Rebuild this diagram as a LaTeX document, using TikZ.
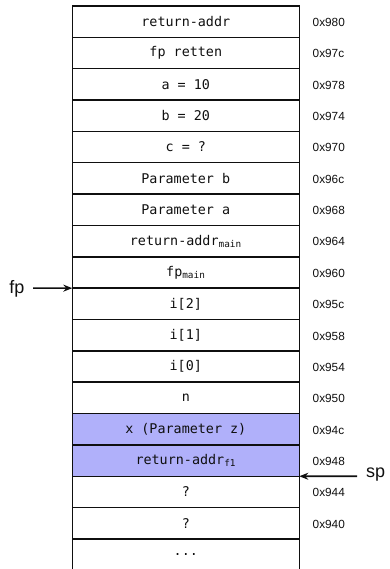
\documentclass[tikz,border=0pt]{standalone}
\usepackage{fontspec}
\setmainfont{Liberation Sans}
\newfontfamily\cellfont{DejaVu Sans Mono}
\usetikzlibrary{arrows.meta}
\definecolor{framefill}{RGB}{176,176,250}
\definecolor{ink}{RGB}{15,15,15}

\tikzset{
  cell/.style={draw=ink, line width=1.5pt, minimum width=227pt, minimum height=31.35pt,
    inner sep=0pt, outer sep=0pt, font=\cellfont\fontsize{13.4}{15}\selectfont, text=ink},
  framecell/.style={cell, fill=framefill},
  addr/.style={anchor=west, inner sep=0pt, font=\fontsize{11.8}{14}\selectfont, text=ink},
  reglabel/.style={inner sep=0pt, font=\fontsize{18}{21}\selectfont, text=ink},
  ptr/.style={draw=ink, line width=1.6pt, -{Stealth[length=9pt,width=7pt]}},
}

\begin{document}
\begin{tikzpicture}[x=1pt, y=-1pt]
  \useasboundingbox (0,0) rectangle (390,569);

  % stack cells, top (high addresses) to bottom
  \foreach \txt/\adr/\sty [count=\i] in {
      return-addr/0x980/cell,
      fp retten/0x97c/cell,
      a = 10/0x978/cell,
      b = 20/0x974/cell,
      c = ?/0x970/cell,
      Parameter b/0x96c/cell,
      Parameter a/0x968/cell,
      {return-addr\textsubscript{main}}/0x964/cell,
      {fp\textsubscript{main}}/0x960/cell,
      {i[2]}/0x95c/cell,
      {i[1]}/0x958/cell,
      {i[0]}/0x954/cell,
      n/0x950/cell,
      x (Parameter z)/0x94c/framecell,
      {return-addr\textsubscript{f1}}/0x948/framecell,
      ?/0x944/cell,
      ?/0x940/cell} {
    \node[\sty] (r\i) at (185.8, {6+(\i-0.5)*31.35}) {\txt};
    \node[addr] (a\i) at (312.5, {6.8+(\i-0.5)*31.35}) {\adr};
  }
  % the rest of the stack continues below
  \node[cell] (r18) at (185.8, {6+17.5*31.35}) {...};

  % frame pointer
  \node[reglabel, anchor=east] (fp) at (24.5, 289) {fp};
  \coordinate (fptail) at (33, 288.15);
  \draw[ptr] (fptail) -- (r9.south west);

  % stack pointer
  \node[reglabel, anchor=west] (sp) at (366, 474.8) {sp};
  \coordinate (sptail) at (357, 476.25);
  \draw[ptr] (sptail) -- (r15.south east);
\end{tikzpicture}
\end{document}
